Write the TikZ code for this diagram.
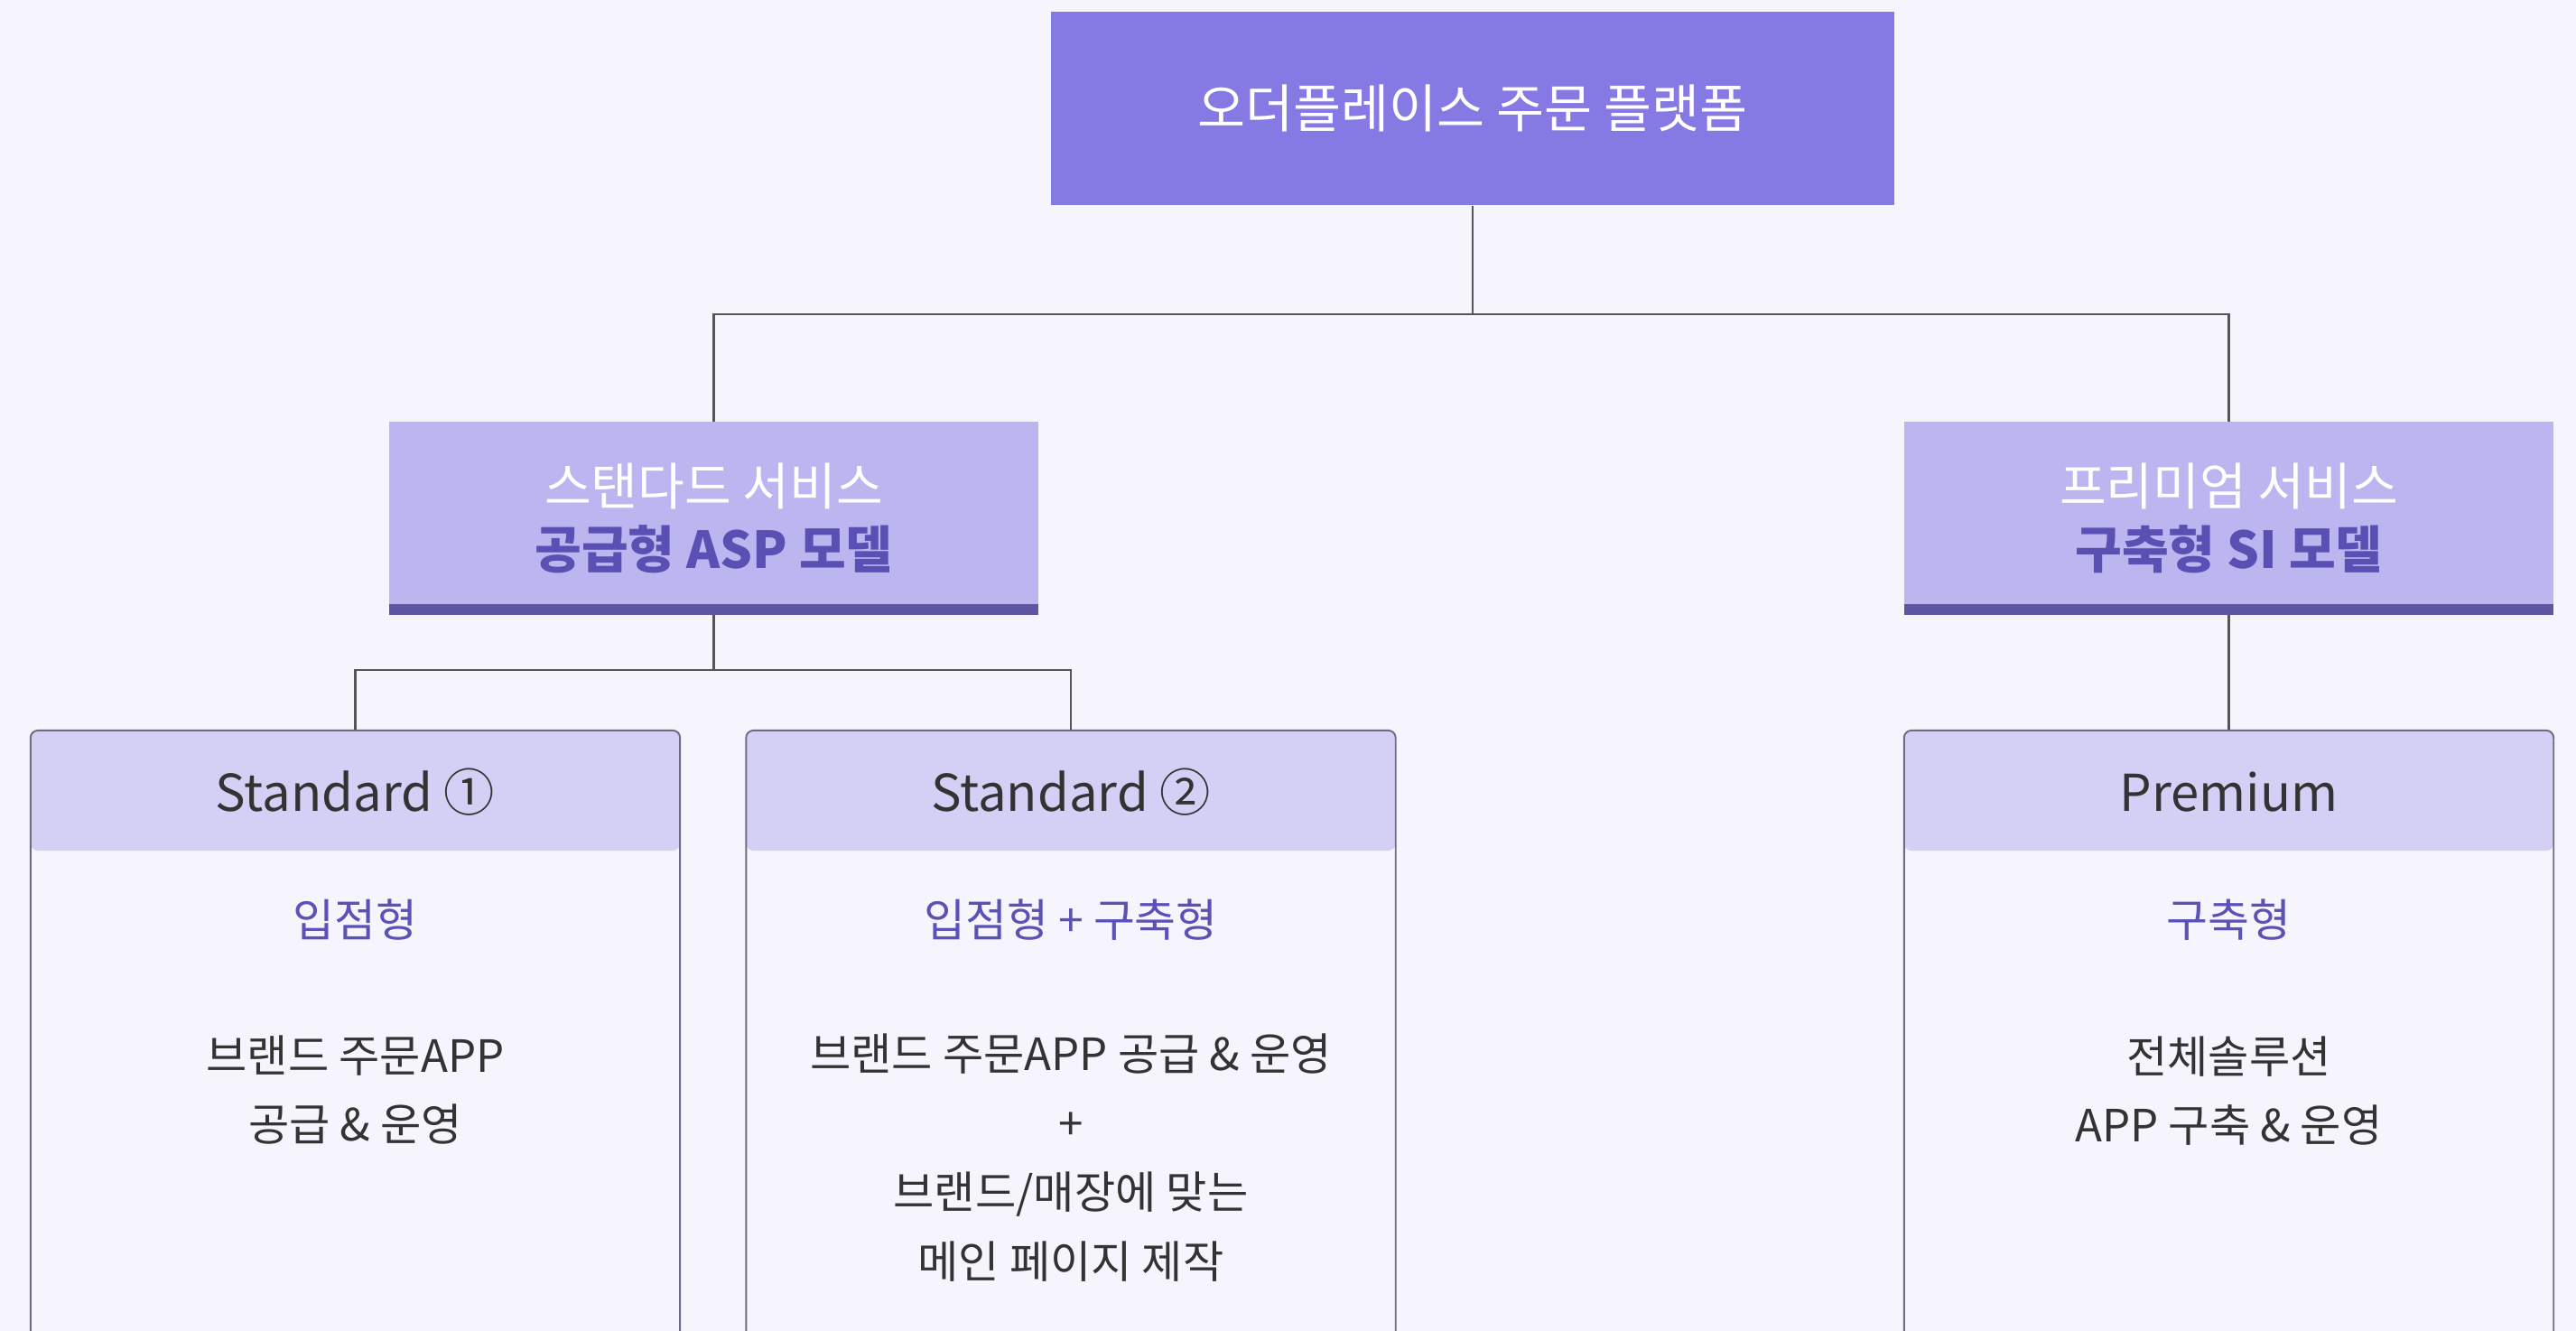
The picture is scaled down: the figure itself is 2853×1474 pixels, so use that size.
\documentclass[tikz,border=0pt]{standalone}
\usepackage{fontspec}
\setmainfont{Noto Sans CJK KR}
\usepackage{tikz}
\usetikzlibrary{positioning}

\definecolor{pagebg}{HTML}{F6F5FE}
\definecolor{topfill}{HTML}{857AE3}
\definecolor{midfill}{HTML}{BBB6F0}
\definecolor{midbar}{HTML}{5F56A3}
\definecolor{midtext}{HTML}{5A4FB3}
\definecolor{headfill}{HTML}{D4D0F5}
\definecolor{cardline}{HTML}{6E6C80}
\definecolor{typetext}{HTML}{5B52B8}
\definecolor{bodytext}{HTML}{333333}
\definecolor{linkline}{HTML}{555555}

\tikzset{
  link/.style={line width=0.6pt,linkline},
  platformbox/.style={fill=topfill,text=white,minimum width=9.34cm,minimum height=2.14cm,
    font=\fontsize{16.4}{20}\selectfont},
  servicebox/.style={fill=midfill,text=white,minimum width=7.19cm,minimum height=2.13cm,
    align=center,inner sep=0pt,font=\fontsize{16}{19.8}\selectfont,
    path picture={\fill[midbar] ([yshift=0.115cm]path picture bounding box.south west)
      rectangle (path picture bounding box.south east);}},
  cardbox/.style={draw=cardline,line width=0.55pt,fill=pagebg,rounded corners=2.3pt,
    minimum width=7.19cm,minimum height=7.2cm,inner sep=0pt,anchor=north,
    path picture={\fill[headfill] (path picture bounding box.north west)
      rectangle ([yshift=-1.33cm]path picture bounding box.north east);}},
  cardhead/.style={text=bodytext,font=\fontsize{16}{20}\selectfont},
  cardtype/.style={text=typetext,font=\fontsize{14.2}{18}\selectfont},
  cardbody/.style={text=bodytext,align=center,font=\fontsize{14}{21.8}\selectfont}
}

\begin{document}
\begin{tikzpicture}[x=0.01cm,y=-0.01cm]
    % Page
    \useasboundingbox (0,0) rectangle (2853,1474);
    \clip (0,0) rectangle (2853,1474);
    \fill[pagebg] (0,0) rectangle (2853,1474);
    % Top box
    \node[platformbox] (platform) at (1631,120) {오더플레이스 주문 플랫폼};
    % Service boxes
    \node[servicebox] (standard) at (790.5,574) {스탠다드 서비스\\{\bfseries\color{midtext}공급형 ASP 모델}};
    \node[servicebox] (premium) at (2468.5,574) {프리미엄 서비스\\{\bfseries\color{midtext}구축형 SI 모델}};
    % Cards
    \node[cardbox] (std1) at (393.5,808) {};
    \node[cardbox] (std2) at (1186,808) {};
    \node[cardbox] (prem) at (2468.5,808) {};
    % Card 1
    \node[cardhead] (std1head) at (393.5,877) {Standard ①};
    \node[cardtype] (std1type) at (393.5,1019) {입점형};
    \node[cardbody] (std1body) at (393.5,1207) {브랜드 주문APP\\공급 \& 운영};
    % Card 2
    \node[cardhead] (std2head) at (1186,877) {Standard ②};
    \node[cardtype] (std2type) at (1186,1019) {입점형 + 구축형};
    \node[cardbody] (std2body) at (1186,1282) {브랜드 주문APP 공급 \& 운영\\+\\브랜드/매장에 맞는\\메인 페이지 제작};
    % Card 3
    \node[cardhead] (premhead) at (2468.5,877) {Premium};
    \node[cardtype] (premtype) at (2468.5,1019) {구축형};
    \node[cardbody] (prembody) at (2468.5,1208) {전체솔루션\\APP 구축 \& 운영};
    % Connectors
    \coordinate (split) at (1631,348);
    \draw[link] (platform.south) -- (split) -| (standard.north);
    \draw[link] (split) -| (premium.north);
    \coordinate (stdsplit) at (790.5,742);
    \draw[link] (standard.south) -- (stdsplit) -| (std1.north);
    \draw[link] (stdsplit) -| (std2.north);
    \draw[link] (premium.south) -- (prem.north);
\end{tikzpicture}
\end{document}
